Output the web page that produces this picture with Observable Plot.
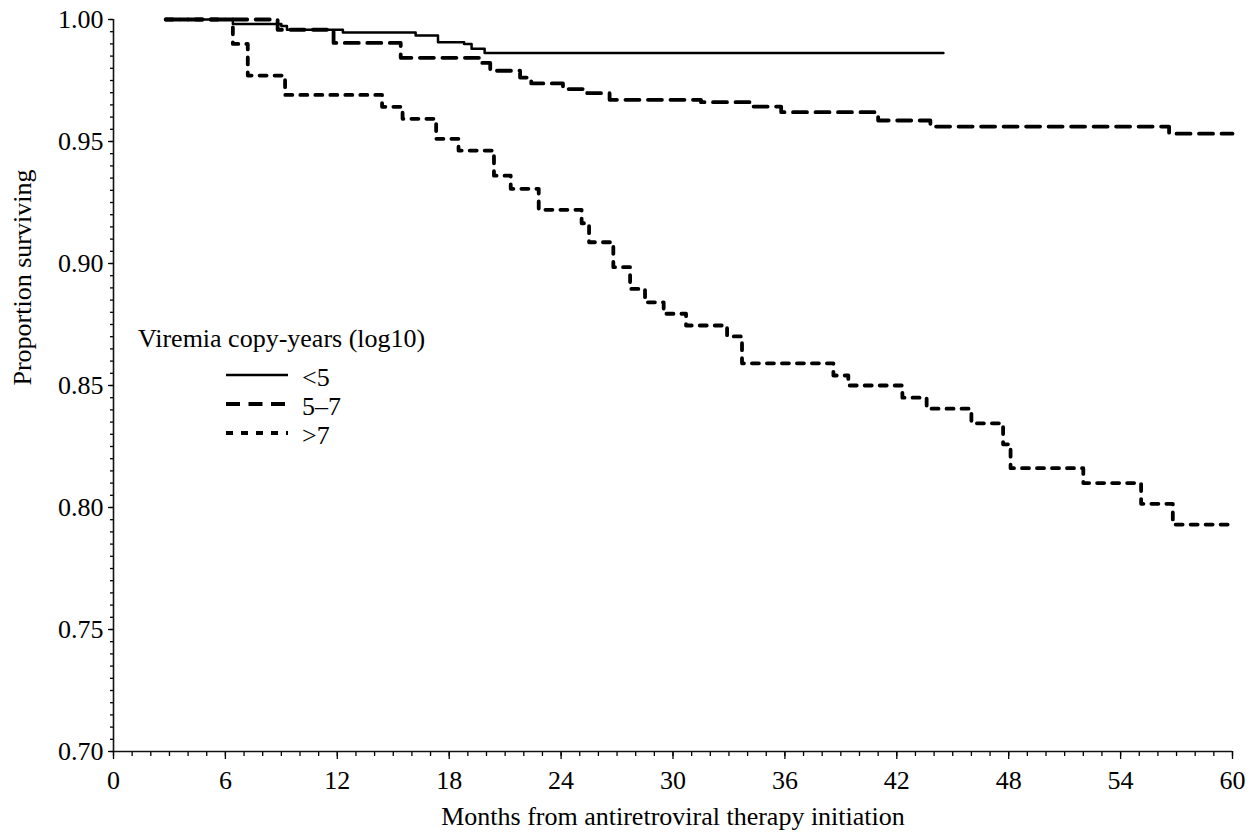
<!DOCTYPE html>
<html><head><meta charset="utf-8">
<script src="https://cdn.jsdelivr.net/npm/d3@7"></script>
<script src="https://cdn.jsdelivr.net/npm/@observablehq/plot@0.6"></script>
<style>
body{margin:0;background:#fff;}
#wrap{position:relative;width:1251px;height:840px;font-family:"Liberation Serif","Times New Roman",Times,"DejaVu Serif",serif;}
#wrap svg, #wrap text{font-family:"Liberation Serif","Times New Roman",Times,"DejaVu Serif",serif !important;}
#legend{position:absolute;left:0;top:0;pointer-events:none;}
</style></head><body><div id="wrap"></div>
<script>
// ---- data ----
const groups = ["<5", "5\u20137", ">7"];
const legendTitle = "Viremia copy-years (log10)";
const xLabel = "Months from antiretroviral therapy initiation";
const yLabel = "Proportion surviving";

const lowMonths = [2.8, 6.4, 9.0, 9.3, 12.3, 16.2, 17.4, 18.8, 19.2, 19.9, 44.5];
const lowSurv   = [1.000, 0.9982, 0.9973, 0.9958, 0.9947, 0.9934, 0.9907, 0.9900, 0.9880, 0.9863, 0.9863];

const midMonths = [2.8, 8.8, 11.8, 15.4, 19.6, 20.2, 21.8, 22.4, 24.1, 25.4, 26.6, 31.5, 34.3, 35.8, 41.0, 43.8, 56.6, 60];
const midSurv   = [1.000, 0.9958, 0.9904, 0.9843, 0.9822, 0.9790, 0.9762, 0.9738, 0.9715, 0.9698, 0.9671, 0.9661, 0.9643, 0.9620, 0.9586, 0.9561, 0.9532, 0.9532];

const highMonths = [2.8, 6.4, 7.2, 9.2, 14.4, 15.5, 17.3, 18.5, 20.4, 21.3, 22.8, 25.1, 25.5, 26.8, 27.7, 28.5, 29.5, 30.7, 32.9, 33.7, 38.6, 39.4, 42.3, 43.6, 46.0, 47.7, 48.1, 52.0, 55.1, 56.8, 60];
const highSurv   = [1.000, 0.990, 0.977, 0.9691, 0.9642, 0.9593, 0.9511, 0.9463, 0.9360, 0.9306, 0.9220, 0.9165, 0.9087, 0.8985, 0.8896, 0.8841, 0.8794, 0.8746, 0.8701, 0.8591, 0.8541, 0.8500, 0.8450, 0.8405, 0.8345, 0.8259, 0.8161, 0.8100, 0.8015, 0.7930, 0.7930];

const xTicks = [0, 6, 12, 18, 24, 30, 36, 42, 48, 54, 60];
const xMinorTicks = d3.range(0, 61, 1);
const yTicks = [0.70, 0.75, 0.80, 0.85, 0.90, 0.95, 1.00];
const yMinorTicks = d3.range(140, 201).map(i => i / 200);

// ---- styles ----
const seriesStyle = {
  "<5":       {width: 2.5, dash: null},
  "5\u20137": {width: 3.8, dash: "14,8.5"},
  ">7":       {width: 3.8, dash: "7,8"}
};

const rows = (g, ts, ss) => ts.map((t, i) => ({group: g, month: t, surv: ss[i]}));
const series = [
  rows(groups[0], lowMonths, lowSurv),
  rows(groups[1], midMonths, midSurv),
  rows(groups[2], highMonths, highSurv)
];

const font = "\"Liberation Serif\", \"Times New Roman\", Times, \"DejaVu Serif\", serif";

const chart = Plot.plot({
  width: 1251, height: 840,
  marginTop: 19, marginBottom: 89, marginLeft: 113, marginRight: 19,
  style: {fontFamily: font, fontSize: "26px", background: "white", color: "#000"},
  x: {domain: [0, 60]},
  y: {domain: [0.70, 1.00]},
  marks: [
    Plot.axisX({ticks: xMinorTicks, tickSize: 5, fill: "none", label: null, strokeWidth: 1.3}),
    Plot.axisX({ticks: xTicks, tickSize: 8, tickPadding: 11, tickFormat: d => String(d), label: null, strokeWidth: 1.3}),
    Plot.axisY({ticks: yMinorTicks, tickSize: 3, fill: "none", label: null, strokeWidth: 1.3}),
    Plot.axisY({ticks: yTicks, tickSize: 5, tickPadding: 5, tickFormat: d3.format(".2f"), label: null, strokeWidth: 1.3}),
    Plot.ruleX([0], {stroke: "#111", strokeWidth: 1.6}),
    Plot.ruleY([0.70], {stroke: "#111", strokeWidth: 1.6}),
    ...series.map((d, i) => Plot.line(d, {
      x: "month", y: "surv", curve: "step-after",
      stroke: "#000",
      strokeWidth: seriesStyle[groups[i]].width,
      strokeDasharray: seriesStyle[groups[i]].dash
    })),
    Plot.text([xLabel], {frameAnchor: "bottom", dy: 73, fontSize: 26}),
    Plot.text([yLabel], {frameAnchor: "left", rotate: -90, dx: -91, fontSize: 26})
  ]
});

const wrap = document.getElementById("wrap");
wrap.appendChild(chart);

// ---- legend (overlay) ----
const lg = d3.select(wrap).append("svg").attr("id", "legend")
  .attr("width", 1251).attr("height", 840)
  .style("font-size", "26px");
lg.append("text").attr("x", 138).attr("y", 347).text(legendTitle);
const entryY = [375, 404, 433];
groups.forEach((g, i) => {
  const st = seriesStyle[g];
  lg.append("line").attr("x1", 226).attr("x2", 288)
    .attr("y1", entryY[i]).attr("y2", entryY[i])
    .attr("stroke", "#000").attr("stroke-width", st.width)
    .attr("stroke-dasharray", st.dash);
  lg.append("text").attr("x", 302).attr("y", entryY[i] + 11).text(g);
});
</script>
</body></html>
